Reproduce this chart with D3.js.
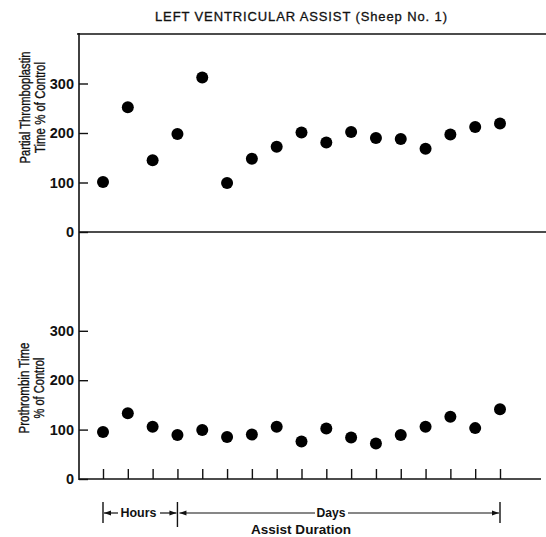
<!DOCTYPE html>
<html>
<head>
<meta charset="utf-8">
<script src="https://cdn.jsdelivr.net/npm/d3@7"></script>
<style>
  html, body { margin: 0; padding: 0; background: #fff; }
  svg text { font-family: "Liberation Sans", Arial, Helvetica, sans-serif; fill: #111; }
</style>
</head>
<body>
<svg id="chart" width="546" height="537"></svg>
<script>
// ---- data ----
const samples = [1, 2, 3, 4, 5, 6, 7, 8, 9, 10, 11, 12, 13, 14, 15, 16, 17];
const pttValues = [101, 252, 145, 198, 312, 99, 148, 172, 201, 181, 202, 190, 188, 168, 197, 212, 219];
const ptValues = [95, 133, 106, 89, 99, 85, 90, 106, 76, 102, 84, 72, 89, 106, 126, 103, 141];
const yTicks = [0, 100, 200, 300];
const title = "LEFT VENTRICULAR ASSIST (Sheep No. 1)";
const topLabel = ["Partial Thromboplastin", "Time % of Control"];
const bottomLabel = ["Prothrombin Time", "% of Control"];
const hoursSpan = [1, 4];   // first and last sample of the "Hours" phase
const daysSpan = [4, 17];   // first and last sample of the "Days" phase

const svg = d3.select("#chart");

const axisX = 79, rightEdge = 546;
const x = d3.scaleLinear().domain([1, 17]).range([103, 500]);
const yTop = d3.scaleLinear().domain([0, 400]).range([232, 34]);
const yBot = d3.scaleLinear().domain([0, 500]).range([479, 232]);

// title
svg.append("text")
  .attr("x", 155).attr("y", 21)
  .attr("textLength", 292).attr("lengthAdjust", "spacing")
  .style("font-size", "13px")
  .style("stroke", "#111").style("stroke-width", 0.3)
  .text(title);

// frame lines
svg.append("line").attr("x1", axisX - 2).attr("x2", rightEdge).attr("y1", 34).attr("y2", 34)
  .attr("stroke", "#111").attr("stroke-width", 1.6);
svg.append("line").attr("x1", axisX).attr("x2", rightEdge).attr("y1", yTop(0)).attr("y2", yTop(0))
  .attr("stroke", "#111").attr("stroke-width", 1.6);
svg.append("line").attr("x1", axisX).attr("x2", 541).attr("y1", yBot(0)).attr("y2", yBot(0))
  .attr("stroke", "#111").attr("stroke-width", 1.6);

function yAxis(scale) {
  const g = svg.append("g").attr("transform", `translate(${axisX},0)`)
    .call(d3.axisLeft(scale).tickValues(yTicks).tickSize(-9).tickPadding(5).tickSizeOuter(0).tickFormat(d3.format("d")));
  g.select(".domain").remove();
  g.selectAll(".tick line").attr("stroke", "#111").attr("stroke-width", 1.4);
  g.selectAll(".tick text")
    .style("font-size", "14.5px").style("font-weight", "bold")
    .attr("fill", "#111");
  return g;
}
yAxis(yTop);
yAxis(yBot);

// vertical axis line
svg.append("line").attr("x1", axisX).attr("x2", axisX).attr("y1", 33).attr("y2", yBot(0) + 1)
  .attr("stroke", "#111").attr("stroke-width", 1.6);

// x ticks on the bottom panel
const xg = svg.append("g").attr("transform", `translate(0,${yBot(0)})`)
  .call(d3.axisTop(x).tickValues(samples).tickSize(10).tickSizeOuter(0).tickFormat(""));
xg.select(".domain").remove();
xg.selectAll(".tick line").attr("stroke", "#111").attr("stroke-width", 1.4);

// dots
svg.append("g").selectAll("circle").data(pttValues).join("circle")
  .attr("cx", (d, i) => x(samples[i])).attr("cy", d => yTop(d)).attr("r", 6).attr("fill", "#000");
svg.append("g").selectAll("circle").data(ptValues).join("circle")
  .attr("cx", (d, i) => x(samples[i])).attr("cy", d => yBot(d)).attr("r", 6).attr("fill", "#000");

// y axis titles
function yTitle(lines, cy, xs, lens) {
  lines.forEach((t, i) => {
    svg.append("text")
      .attr("transform", `translate(${xs[i]},${cy}) rotate(-90)`)
      .attr("x", -lens[i] / 2).attr("y", 0)
      .attr("textLength", lens[i]).attr("lengthAdjust", "spacingAndGlyphs")
      .style("font-size", "14.5px")
      .style("stroke", "#111").style("stroke-width", 0.35)
      .text(t);
  });
}
yTitle(topLabel, 107.5, [30, 44.5], [112, 91]);
yTitle(bottomLabel, 388, [29, 43.5], [91, 61]);

// duration annotation
const ay = 513;
const ann = svg.append("g");
ann.selectAll("line.bar").data([hoursSpan[0], hoursSpan[1], daysSpan[1]]).join("line")
  .attr("class", "bar")
  .attr("x1", d => x(d)).attr("x2", d => x(d))
  .attr("y1", 502).attr("y2", (d, i) => i === 1 ? 527 : 523)
  .attr("stroke", "#111").attr("stroke-width", 1.4);

function arrow(x1, x2) { // line from x1 to x2, head at x2
  ann.append("line").attr("x1", x1).attr("x2", x2).attr("y1", ay).attr("y2", ay)
    .attr("stroke", "#111").attr("stroke-width", 1.2);
  const dir = x2 > x1 ? 1 : -1;
  ann.append("path")
    .attr("d", `M${x2},${ay} L${x2 - dir * 7},${ay - 2.6} L${x2 - dir * 7},${ay + 2.6} Z`)
    .attr("fill", "#111");
}
arrow(118, x(hoursSpan[0]) + 1);
arrow(160, x(hoursSpan[1]) - 1);
arrow(315, x(daysSpan[0]) + 2);
arrow(348, x(daysSpan[1]) - 1);

ann.append("text").attr("x", 138.5).attr("y", 517).attr("text-anchor", "middle")
  .attr("textLength", 36).attr("lengthAdjust", "spacingAndGlyphs")
  .style("font-size", "13px").style("font-weight", "bold").text("Hours");
ann.append("text").attr("x", 331).attr("y", 517).attr("text-anchor", "middle")
  .attr("textLength", 29).attr("lengthAdjust", "spacingAndGlyphs")
  .style("font-size", "13px").style("font-weight", "bold").text("Days");
ann.append("text").attr("x", 301).attr("y", 534).attr("text-anchor", "middle")
  .attr("textLength", 100).attr("lengthAdjust", "spacingAndGlyphs")
  .style("font-size", "13px").style("font-weight", "bold").text("Assist Duration");
</script>
</body>
</html>
